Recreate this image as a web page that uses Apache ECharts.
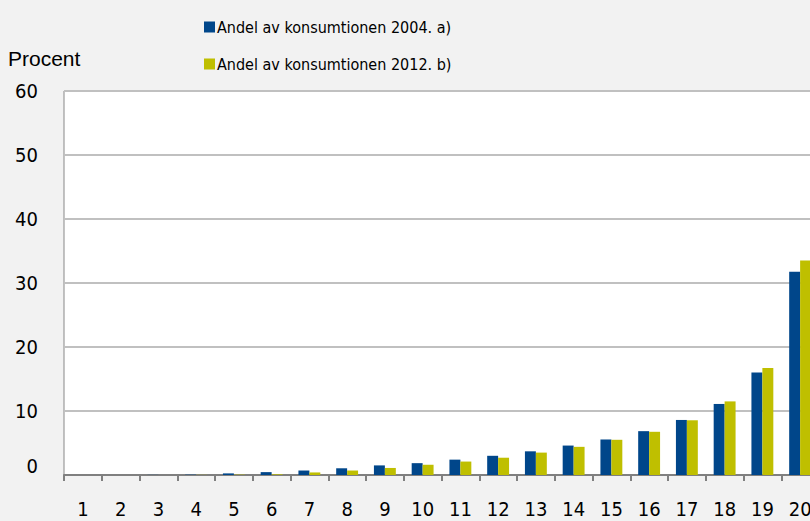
<!DOCTYPE html>
<html>
<head>
<meta charset="utf-8">
<script src="https://cdn.jsdelivr.net/npm/echarts@6/dist/echarts.min.js"></script>
<style>
  html, body { margin: 0; padding: 0; background: #f2f2f2; overflow: hidden; }
  /* the chart runs past the right edge of the picture, like the original */
  #bar-chart { width: 840px; height: 521px; }
</style>
</head>
<body>
<div id="bar-chart"></div>
<script>
/* ...............................var....................................*/
const categories = ['1','2','3','4','5','6','7','8','9','10','11','12','13','14','15','16','17','18','19','20'];
const share2004 = [0, 0, 0.02, 0.05, 0.25, 0.45, 0.7, 1.05, 1.5, 1.85, 2.4, 3.0, 3.7, 4.6, 5.55, 6.85, 8.6, 11.1, 16.0, 31.75];
const share2012 = [0, 0, 0, 0.02, 0.05, 0.1, 0.4, 0.7, 1.1, 1.6, 2.1, 2.7, 3.5, 4.4, 5.5, 6.75, 8.55, 11.5, 16.7, 33.5];
const seriesNames = ['Andel av konsumtionen 2004. a)', 'Andel av konsumtionen 2012. b)'];
const colors = ['#00468a', '#bfbf00'];

let myChart;
let option;
const font = 'Liberation Sans Narrow, DejaVu Sans Condensed, Liberation Sans, sans-serif';

option = {
  backgroundColor: '#f2f2f2',
  animation: false,
  color: colors,
  title: {
    text: 'Procent',
    left: 3,
    top: 43,
    textStyle: { fontFamily: 'Liberation Sans, Arial, sans-serif', fontWeight: 'normal', fontSize: 21, color: '#000' }
  },
  legend: {
    orient: 'vertical',
    left: 199,
    top: 14,
    itemWidth: 11,
    itemHeight: 11,
    itemGap: 21,
    icon: 'rect',
    textStyle: { fontFamily: font, fontSize: 16, color: '#000', padding: [0, 0, 0, -3] },
    data: seriesNames
  },
  grid: {
    left: 64,
    top: 91,
    width: 755,
    bottom: 46,
    show: true,
    backgroundColor: '#fff',
    borderColor: '#888',
    borderWidth: 1
  },
  xAxis: {
    type: 'category',
    data: categories,
    axisLine: { lineStyle: { color: '#808080', width: 2 } },
    axisTick: { show: true, length: 6, lineStyle: { color: '#808080', width: 2 } },
    axisLabel: { fontFamily: font, fontSize: 20, color: '#000', margin: 24 }
  },
  yAxis: {
    type: 'value',
    min: 0,
    max: 60,
    interval: 10,
    axisLine: { show: false },
    axisTick: { show: false },
    splitLine: { lineStyle: { color: '#c0c0c0', width: 2 } },
    axisLabel: {
      fontFamily: font,
      fontSize: 20,
      color: '#000',
      margin: 26,
      formatter: (value) => (value === 0 ? '{low|0}' : String(value)),
      rich: { low: { fontFamily: font, fontSize: 20, color: '#000', padding: [0, 0, 18, 0] } }
    }
  },
  series: [
    {
      name: seriesNames[0],
      type: 'bar',
      data: share2004,
      barGap: '0%',
      barCategoryGap: '42%'
    },
    {
      name: seriesNames[1],
      type: 'bar',
      data: share2012
    }
  ]
};
/* ...............................var....................................*/

myChart = echarts.init(document.getElementById('bar-chart'), null, { renderer: 'svg' });
option && myChart.setOption(option);
</script>
</body>
</html>
